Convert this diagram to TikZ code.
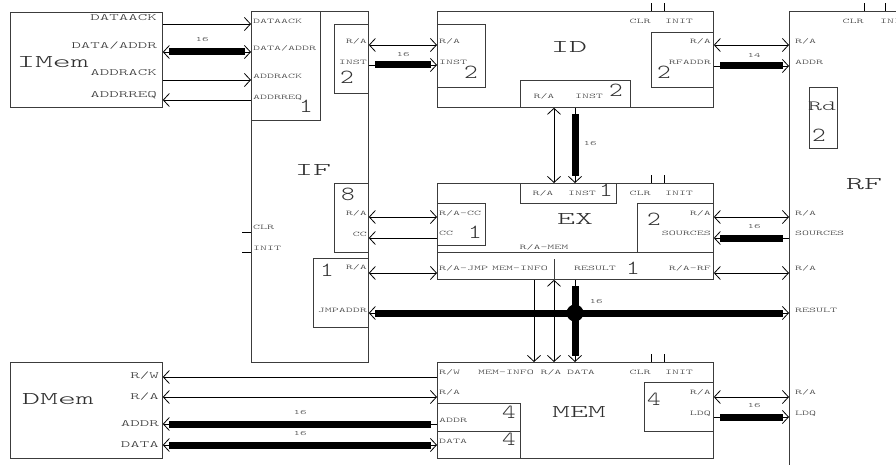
\documentclass[tikz,border=0pt]{standalone}
\usepackage{fontspec}
\usetikzlibrary{arrows.meta}
\newfontfamily\cpufont[Extension=.otf,FakeStretch=1.9]{lmmonolt10-regular}
\newfontfamily\cpudigit[Extension=.otf,FakeStretch=1.3]{lmmonolt10-regular}
\definecolor{cpuink}{HTML}{303030}
\definecolor{cpuline}{HTML}{3C3C3C}

\begin{document}
\begin{tikzpicture}[
    x=1pt, y=-1pt,
    blk/.style={draw=cpuline, line width=0.8pt, inner sep=0pt, anchor=north west},
    sig/.style={draw=black, line width=0.8pt},
    >={Straight Barb[length=6pt,width=13pt]},
    bus/.style={draw=black, line width=7pt, shorten <=6.5pt, shorten >=6.5pt},
    port/.style={font=\cpufont\fontsize{7}{8}\selectfont, text=cpuink, inner sep=0pt, text height=4.3pt, text depth=0pt},
    bigport/.style={font=\cpufont\fontsize{9.5}{11}\selectfont, text=cpuink, inner sep=0pt, text height=5.8pt, text depth=0pt},
    title/.style={font=\cpufont\fontsize{18}{20}\selectfont, text=cpuink, inner sep=0pt, text height=11pt, text depth=0pt},
    regname/.style={font=\cpufont\fontsize{14}{16}\selectfont, text=cpuink, inner sep=0pt, text height=8.5pt, text depth=0pt},
    num/.style={font=\cpudigit\fontsize{20}{22}\selectfont, text=cpuink, inner sep=0pt, text height=12.2pt, text depth=0pt},
    width/.style={font=\cpufont\fontsize{6.5}{8}\selectfont, text=cpuink, inner sep=0pt},
    tick/.style={draw=black, line width=0.8pt}
  ]
  \path[use as bounding box, fill=white] (0,0) rectangle (896,465);

  % IMem
  \node[blk, minimum width=152pt, minimum height=95pt] (imem) at (10,12) {};
  \node[title] (imemname) at (53,62) {IMem};
  \node[bigport, anchor=east] (imemdack) at (157,18) {DATAACK};
  \node[bigport, anchor=east] (imemdata) at (157,45.5) {DATA/ADDR};
  \node[bigport, anchor=east] (imemaack) at (157,73) {ADDRACK};
  \node[bigport, anchor=east] (imemareq) at (157,95) {ADDRREQ};

  % DMem
  \node[blk, minimum width=152pt, minimum height=96pt] (dmem) at (10,362) {};
  \node[title] (dmemname) at (58,399) {DMem};
  \node[bigport, anchor=east] (dmemrw) at (159,376) {R/W};
  \node[bigport, anchor=east] (dmemra) at (159,397) {R/A};
  \node[bigport, anchor=east] (dmemaddr) at (159,424) {ADDR};
  \node[bigport, anchor=east] (dmemdata) at (159,445) {DATA};

  % IF
  \node[blk, minimum width=117pt, minimum height=351pt] (ifo) at (251,11) {};
  \node[blk, minimum width=69pt, minimum height=109pt] (ifmem) at (251,11) {};
  \node[blk, minimum width=34pt, minimum height=69pt] (ifinst) at (334,24) {};
  \node[blk, minimum width=34pt, minimum height=69pt] (ifcc) at (334,183) {};
  \node[blk, minimum width=55pt, minimum height=69pt] (ifjmp) at (313,258) {};
  \node[title] (ifname) at (313,170) {IF};
  \node[port, anchor=west] (ifdack) at (253,21) {DATAACK};
  \node[port, anchor=west] (ifdata) at (253,48) {DATA/ADDR};
  \node[port, anchor=west] (ifaack) at (253,76) {ADDRACK};
  \node[port, anchor=west] (ifareq) at (253,97) {ADDRREQ};
  \node[port, anchor=east] (ifinra) at (367,41) {R/A};
  \node[port, anchor=east] (ifinin) at (367,62) {INST};
  \node[port, anchor=east] (ifccra) at (367,213) {R/A};
  \node[port, anchor=east] (ifcccc) at (367,234) {CC};
  \node[port, anchor=east] (ifjra) at (367,267) {R/A};
  \node[port, anchor=east] (ifjaddr) at (367,310) {JMPADDR};
  \node[port, anchor=west] (ifclr) at (253,227) {CLR};
  \node[port, anchor=west] (ifinit) at (253,248) {INIT};
  \node[num] (ifn1) at (306,106) {1};
  \node[num] (ifn2) at (347,77) {2};
  \node[num] (ifn3) at (348,194) {8};
  \node[num] (ifn4) at (327,270) {1};
  \draw[tick] (ifo.west |- 0,232) -- ++(-9,0);
  \draw[tick] (ifo.west |- 0,252) -- ++(-9,0);

  % ID
  \node[blk, minimum width=276pt, minimum height=96pt] (id) at (437,11) {};
  \node[blk, minimum width=48pt, minimum height=63pt] (idin) at (437,24) {};
  \node[blk, minimum width=110pt, minimum height=27pt] (idout) at (520,80) {};
  \node[blk, minimum width=62pt, minimum height=55pt] (idrf) at (651,32) {};
  \node[title] (idname) at (569,47) {ID};
  \node[port, anchor=west] (idra) at (439,41) {R/A};
  \node[port, anchor=west] (idinst) at (439,62) {INST};
  \node[port] (idoutra) at (544,96) {R/A};
  \node[port] (idoutin) at (589,96) {INST};
  \node[port] (idclr) at (640,21) {CLR};
  \node[port] (idinit) at (679,21) {INIT};
  \node[port, anchor=east] (idrfra) at (711,41) {R/A};
  \node[port, anchor=east] (idrfaddr) at (711,62) {RFADDR};
  \node[num] (idn1) at (471,72) {2};
  \node[num] (idn2) at (616,90) {2};
  \node[num] (idn3) at (664,72) {2};
  \draw[tick] (id.north -| 651,0) -- ++(0,-8);
  \draw[tick] (id.north -| 664,0) -- ++(0,-8);

  % EX
  \node[blk, minimum width=276pt, minimum height=96pt] (ex) at (437,183) {};
  \node[blk, minimum width=96pt, minimum height=20pt] (exin) at (520,183) {};
  \node[blk, minimum width=48pt, minimum height=42pt] (excc) at (437,203) {};
  \node[blk, minimum width=76pt, minimum height=49pt] (exsrc) at (637,203) {};
  \draw[cpuline, line width=0.8pt] (ex.west |- 0,252) -- (ex.east |- 0,252);
  \draw[cpuline, line width=0.8pt] (ex.south -| 554,0) -- ++(0,-21);
  \node[title] (exname) at (575,219) {EX};
  \node[port] (exinra) at (543,193) {R/A};
  \node[port] (exinin) at (582,193) {INST};
  \node[port] (exclr) at (640,193) {CLR};
  \node[port] (exinit) at (679,193) {INIT};
  \node[port, anchor=west] (exccra) at (439,213) {R/A-CC};
  \node[port, anchor=west] (exccc) at (439,233) {CC};
  \node[port, anchor=east] (exsrcra) at (711,213) {R/A};
  \node[port, anchor=east] (exsrcs) at (711,233) {SOURCES};
  \node[port] (exmem) at (544,247) {R/A-MEM};
  \node[port, anchor=west] (exjmp) at (439,268) {R/A-JMP};
  \node[port] (exinfo) at (520,268) {MEM-INFO};
  \node[port] (exres) at (595,268) {RESULT};
  \node[port, anchor=east] (exrf) at (711,268) {R/A-RF};
  \node[num] (exn1) at (606,190) {1};
  \node[num] (exn2) at (475,232) {1};
  \node[num] (exn3) at (654,219) {2};
  \node[num] (exn4) at (633,268) {1};
  \draw[tick] (ex.north -| 651,0) -- ++(0,-8);
  \draw[tick] (ex.north -| 664,0) -- ++(0,-8);

  % MEM
  \node[blk, minimum width=276pt, minimum height=96pt] (mem) at (437,362) {};
  \node[blk, minimum width=83pt, minimum height=28pt] (memaddr) at (437,403) {};
  \node[blk, minimum width=83pt, minimum height=27pt] (memdata) at (437,431) {};
  \node[blk, minimum width=69pt, minimum height=49pt] (memldq) at (644,382) {};
  \node[title] (memname) at (579,412) {MEM};
  \node[port, anchor=west] (memrw) at (439,372) {R/W};
  \node[port] (meminfo) at (506,372) {MEM-INFO};
  \node[port] (memra) at (551,372) {R/A};
  \node[port] (memdat) at (581,372) {DATA};
  \node[port] (memclr) at (640,372) {CLR};
  \node[port] (meminit) at (679,372) {INIT};
  \node[port, anchor=west] (memra2) at (439,392) {R/A};
  \node[port, anchor=west] (memaddrl) at (439,420) {ADDR};
  \node[port, anchor=west] (memdatal) at (439,441) {DATA};
  \node[port, anchor=east] (memldqra) at (711,392) {R/A};
  \node[port, anchor=east] (memldql) at (711,413) {LDQ};
  \node[num] (memn1) at (509,412) {4};
  \node[num] (memn2) at (509,439) {4};
  \node[num] (memn3) at (654,399) {4};
  \draw[tick] (mem.north -| 651,0) -- ++(0,-8);
  \draw[tick] (mem.north -| 664,0) -- ++(0,-8);

  % RF
  \node[blk, minimum width=200pt, minimum height=500pt] (rf) at (789,11) {};
  \node[blk, minimum width=28pt, minimum height=61pt] (rd) at (809,87) {};
  \node[title] (rfname) at (864,184) {RF};
  \node[regname] (rdname) at (822,106) {Rd};
  \node[num] (rdn) at (819,135) {2};
  \node[port] (rfclr) at (853,21) {CLR};
  \node[port, anchor=west] (rfinit) at (880,21) {INIT};
  \node[port, anchor=west] (rfra) at (795,41) {R/A};
  \node[port, anchor=west] (rfaddr) at (795,62) {ADDR};
  \node[port, anchor=west] (rfra2) at (795,213) {R/A};
  \node[port, anchor=west] (rfsrc) at (795,233) {SOURCES};
  \node[port, anchor=west] (rfra3) at (795,268) {R/A};
  \node[port, anchor=west] (rfres) at (795,310) {RESULT};
  \node[port, anchor=west] (rfra4) at (795,392) {R/A};
  \node[port, anchor=west] (rfldq) at (795,413) {LDQ};
  \draw[tick] (rf.north -| 864,0) -- ++(0,-8);
  \draw[tick] (rf.north -| 885,0) -- ++(0,-8);

  % IMem <-> IF
  \draw[sig, ->] (imem.east |- 0,24) -- (ifmem.west |- 0,24);
  \draw[sig, <->] (imem.east |- 0,52) -- (ifmem.west |- 0,52);
  \draw[bus] (imem.east |- 0,52) -- (ifmem.west |- 0,52);
  \draw[sig, ->] (imem.east |- 0,80) -- (ifmem.west |- 0,80);
  \draw[sig, <-] (imem.east |- 0,100) -- (ifmem.west |- 0,100);
  \node[width] (w1) at (202,40) {16};

  % IF <-> ID
  \draw[sig, <->] (ifinst.east |- 0,45) -- (idin.west |- 0,45);
  \draw[sig, ->] (ifinst.east |- 0,65) -- (idin.west |- 0,65);
  \draw[bus] (ifinst.east |- 0,65) -- (idin.west |- 0,65);
  \node[width] (w2) at (403,55) {16};

  % ID <-> RF
  \draw[sig, <->] (idrf.east |- 0,45) -- (rf.west |- 0,45);
  \draw[sig, ->] (idrf.east |- 0,66) -- (rf.west |- 0,66);
  \draw[bus] (idrf.east |- 0,66) -- (rf.west |- 0,66);
  \node[width] (w3) at (754,55) {14};

  % ID <-> EX
  \draw[sig, <->] (idout.south -| 554,0) -- (exin.north -| 554,0);
  \draw[sig, ->] (idout.south -| 575,0) -- (exin.north -| 575,0);
  \draw[bus] (idout.south -| 575,0) -- (exin.north -| 575,0);
  \node[width] (w4) at (590,144) {16};

  % IF <-> EX
  \draw[sig, <->] (ifcc.east |- 0,217) -- (excc.west |- 0,217);
  \draw[sig, <-] (ifcc.east |- 0,238) -- (excc.west |- 0,238);
  \draw[sig, <->] (ifjmp.east |- 0,273) -- (ex.west |- 0,273);

  % EX <-> RF
  \draw[sig, <->] (exsrc.east |- 0,217) -- (rf.west |- 0,217);
  \draw[sig, <-] (exsrc.east |- 0,238) -- (rf.west |- 0,238);
  \draw[bus] (exsrc.east |- 0,238) -- (rf.west |- 0,238);
  \node[width] (w5) at (754,227) {16};
  \draw[sig, <->] (ex.east |- 0,273) -- (rf.west |- 0,273);

  % result bus
  \draw[sig, <->] (ifjmp.east |- 0,313) -- (rf.west |- 0,313);
  \draw[bus] (ifjmp.east |- 0,313) -- (rf.west |- 0,313);
  \draw[sig, ->] (ex.south -| 575,0) -- (mem.north -| 575,0);
  \draw[bus] (ex.south -| 575,0) -- (mem.north -| 575,0);
  \node[circle, fill=black, minimum size=17pt, inner sep=0pt] (jn) at (575,313) {};
  \node[width] (w6) at (596,302) {16};

  % EX <-> MEM
  \draw[sig, ->] (ex.south -| 534,0) -- (mem.north -| 534,0);
  \draw[sig, <->] (ex.south -| 554,0) -- (mem.north -| 554,0);

  % MEM <-> RF
  \draw[sig, <->] (memldq.east |- 0,397) -- (rf.west |- 0,397);
  \draw[sig, ->] (memldq.east |- 0,417) -- (rf.west |- 0,417);
  \draw[bus] (memldq.east |- 0,417) -- (rf.west |- 0,417);
  \node[width] (w7) at (754,406) {16};

  % DMem <-> MEM
  \draw[sig, <-] (dmem.east |- 0,377) -- (mem.west |- 0,377);
  \draw[sig, <->] (dmem.east |- 0,397) -- (mem.west |- 0,397);
  \draw[sig, <-] (dmem.east |- 0,424) -- (memaddr.west |- 0,424);
  \draw[bus] (dmem.east |- 0,424) -- (memaddr.west |- 0,424);
  \draw[sig, <->] (dmem.east |- 0,445) -- (memdata.west |- 0,445);
  \draw[bus] (dmem.east |- 0,445) -- (memdata.west |- 0,445);
  \node[width] (w8) at (300,413) {16};
  \node[width] (w9) at (300,434) {16};
\end{tikzpicture}
\end{document}
